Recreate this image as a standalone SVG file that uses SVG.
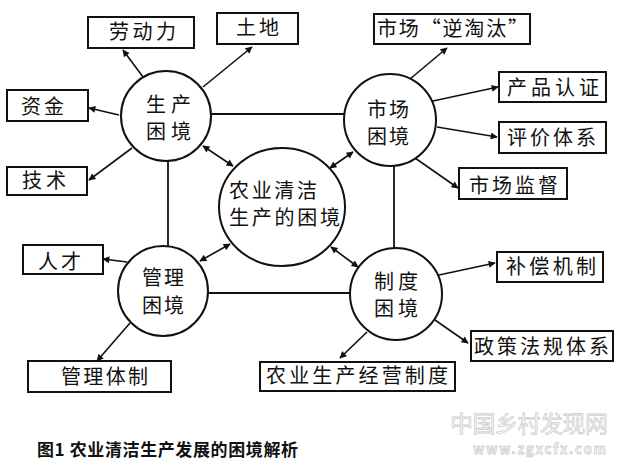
<svg xmlns="http://www.w3.org/2000/svg" width="622" height="470" viewBox="0 0 622 470">
<style>
.box{fill:#fff;stroke:#111;stroke-width:2}
.node{fill:#fff;stroke:#111;stroke-width:2}
.t{font-family:"Noto Sans CJK SC","Noto Sans",sans-serif;font-size:20px;fill:#111}
.c{fill:none;stroke:#111;stroke-width:1.8}
.a{fill:none;stroke:#111;stroke-width:1.6;marker-end:url(#ah)}
.d{fill:none;stroke:#111;stroke-width:1.6;marker-start:url(#ah);marker-end:url(#ah)}
.cap{font-family:"Noto Sans CJK SC","Noto Sans",sans-serif;font-size:17px;font-weight:bold;fill:#111}
.wm{font-family:"Noto Sans CJK SC","Noto Sans",sans-serif;fill:#fafafa;stroke:#cfcfcf;stroke-width:0.8}
</style>
<defs>
<marker id="ah" viewBox="0 0 10 10" refX="9" refY="5" markerWidth="9" markerHeight="7" orient="auto-start-reverse" markerUnits="userSpaceOnUse">
<path d="M0,0 L10,5 L0,10 z" fill="#111"/>
</marker>
</defs>
<rect width="622" height="470" fill="#fff"/>

<g id="connectors">
<line class="c" x1="211" y1="114" x2="344" y2="114"/>
<line class="c" x1="168" y1="161" x2="168" y2="246"/>
<line class="c" x1="208" y1="293" x2="350" y2="293"/>
<line class="c" x1="394" y1="166" x2="394" y2="248"/>
<line class="a" x1="143" y1="77" x2="123" y2="50"/>
<line class="a" x1="203" y1="87" x2="252" y2="47"/>
<line class="a" x1="119" y1="115" x2="89" y2="108"/>
<line class="a" x1="132" y1="148" x2="89" y2="180"/>
<line class="d" x1="203" y1="146" x2="233" y2="166"/>
<line class="a" x1="410" y1="79" x2="447" y2="48"/>
<line class="a" x1="433" y1="101" x2="498" y2="87"/>
<line class="a" x1="437" y1="127" x2="497" y2="137"/>
<line class="a" x1="415" y1="158" x2="458" y2="188"/>
<line class="d" x1="330" y1="168" x2="353" y2="152"/>
<line class="a" x1="127" y1="262" x2="103" y2="259"/>
<line class="a" x1="130" y1="323" x2="97" y2="361"/>
<line class="d" x1="200" y1="261" x2="230" y2="244"/>
<line class="a" x1="439" y1="275" x2="495" y2="263"/>
<line class="a" x1="435" y1="320" x2="468" y2="343"/>
<line class="a" x1="367" y1="332" x2="340" y2="358"/>
<line class="d" x1="331" y1="247" x2="358" y2="267"/>
</g>

<g id="n-center"><ellipse class="node" cx="282" cy="207" rx="63" ry="59"/>
<text class="t"><tspan x="229" y="198" textLength="88" lengthAdjust="spacing">农业清洁</tspan><tspan x="229" y="225" textLength="111" lengthAdjust="spacing">生产的困境</tspan></text></g>

<g id="n-production"><circle class="node" cx="166" cy="116" r="45"/>
<text class="t"><tspan x="146" y="112" textLength="45" lengthAdjust="spacing">生产</tspan><tspan x="146" y="139" textLength="45" lengthAdjust="spacing">困境</tspan></text></g>

<g id="n-market"><circle class="node" cx="390" cy="120" r="46"/>
<text class="t"><tspan x="367" y="117" textLength="42" lengthAdjust="spacing">市场</tspan><tspan x="367" y="144" textLength="42" lengthAdjust="spacing">困境</tspan></text></g>

<g id="n-management"><circle class="node" cx="163" cy="291" r="45"/>
<text class="t"><tspan x="142" y="285" textLength="42" lengthAdjust="spacing">管理</tspan><tspan x="142" y="313" textLength="42" lengthAdjust="spacing">困境</tspan></text></g>

<g id="n-institution"><circle class="node" cx="396" cy="294" r="46"/>
<text class="t"><tspan x="374" y="289" textLength="44" lengthAdjust="spacing">制度</tspan><tspan x="374" y="316" textLength="44" lengthAdjust="spacing">困境</tspan></text></g>

<g id="b-labor"><rect class="box" x="88" y="17" width="106" height="31"/>
<text class="t" x="109" y="39" textLength="67" lengthAdjust="spacing">劳动力</text></g>
<g id="b-land"><rect class="box" x="217" y="13" width="81" height="31"/>
<text class="t" x="236" y="35" textLength="43" lengthAdjust="spacing">土地</text></g>
<g id="b-capital"><rect class="box" x="7" y="90" width="81" height="31"/>
<text class="t" x="21" y="114" textLength="43" lengthAdjust="spacing">资金</text></g>
<g id="b-tech"><rect class="box" x="7" y="167" width="80" height="28"/>
<text class="t" x="22" y="188" textLength="44" lengthAdjust="spacing">技术</text></g>
<g id="b-reverse"><rect class="box" x="374" y="14" width="156" height="30"/>
<text class="t" x="377" y="36" textLength="151" lengthAdjust="spacing">市场“逆淘汰”</text></g>
<g id="b-cert"><rect class="box" x="499" y="72" width="107" height="30"/>
<text class="t" x="507" y="95" textLength="92" lengthAdjust="spacing">产品认证</text></g>
<g id="b-eval"><rect class="box" x="499" y="122" width="107" height="31"/>
<text class="t" x="507" y="145" textLength="89" lengthAdjust="spacing">评价体系</text></g>
<g id="b-supervise"><rect class="box" x="459" y="168" width="108" height="31"/>
<text class="t" x="469" y="193" textLength="89" lengthAdjust="spacing">市场监督</text></g>
<g id="b-talent"><rect class="box" x="23" y="245" width="80" height="29"/>
<text class="t" x="38" y="269" textLength="43" lengthAdjust="spacing">人才</text></g>
<g id="b-mgmt"><rect class="box" x="28" y="361" width="143" height="31"/>
<text class="t" x="61" y="384" textLength="87" lengthAdjust="spacing">管理体制</text></g>
<g id="b-operate"><rect class="box" x="260" y="362" width="195" height="29"/>
<text class="t" x="266" y="383" textLength="182" lengthAdjust="spacing">农业生产经营制度</text></g>
<g id="b-compensate"><rect class="box" x="497" y="252" width="106" height="30"/>
<text class="t" x="506" y="274" textLength="90" lengthAdjust="spacing">补偿机制</text></g>
<g id="b-policy"><rect class="box" x="471" y="331" width="142" height="30"/>
<text class="t" x="474" y="354" textLength="135" lengthAdjust="spacing">政策法规体系</text></g>

<text class="cap" x="37" y="456" textLength="261" lengthAdjust="spacing">图1 农业清洁生产发展的困境解析</text>

<text class="wm"><tspan x="450" y="432" font-size="23" textLength="158" lengthAdjust="spacing">中国乡村发现网</tspan><tspan x="473" y="454" font-size="13" font-weight="bold" textLength="133" lengthAdjust="spacing">www.zgxcfx.com</tspan></text>
</svg>
